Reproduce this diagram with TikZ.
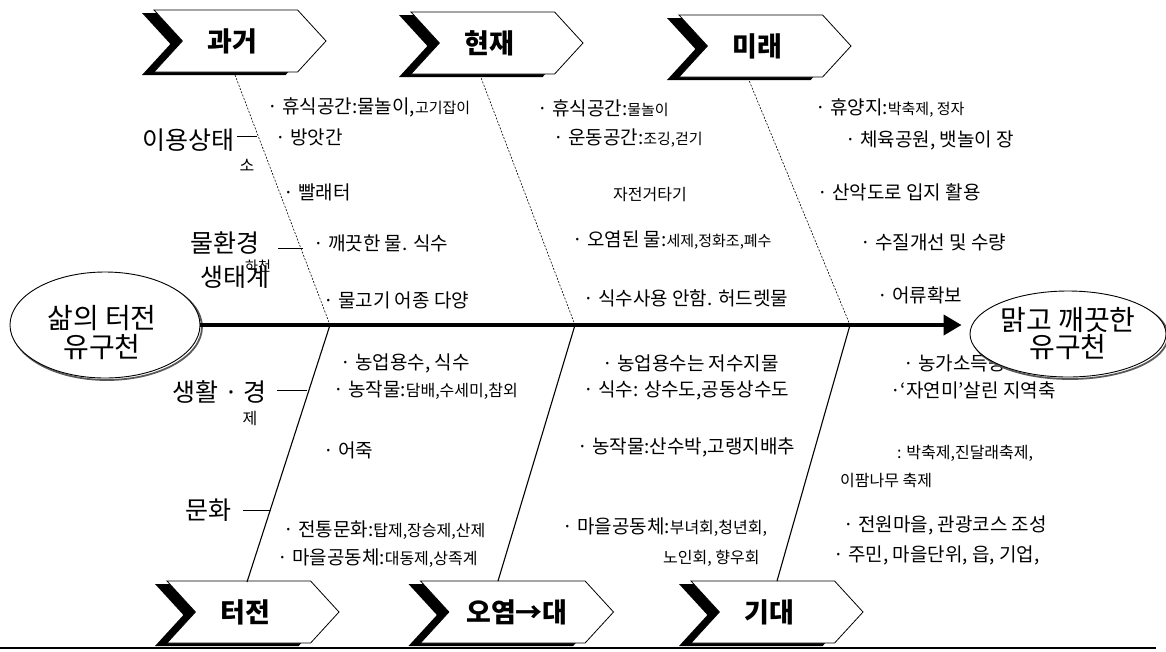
\documentclass[tikz,border=0pt]{standalone}
\usepackage{fontspec}
\newfontfamily\kr{Noto Sans CJK KR}
\usetikzlibrary{shapes.geometric,shapes.symbols,shadows,arrows.meta,calc}
\newcommand\smf{\fontsize{15}{17}\selectfont}
\newcommand\smg{\fontsize{16}{18}\selectfont}
\newcommand\lft{\kern-16pt}
\begin{document}
\begin{tikzpicture}[x=1pt,y=-1pt,
  every node/.style={font=\kr},
  item/.style={anchor=west, inner sep=0pt, font=\kr\fontsize{19}{21}\selectfont},
  smitem/.style={anchor=west, inner sep=0pt, font=\kr\fontsize{16}{18}\selectfont},
  cat/.style={inner sep=0pt, font=\kr\fontsize{25}{27}\selectfont},
  small/.style={inner sep=0pt, font=\kr\fontsize{16}{18}\selectfont},
  chev/.style={signal, signal from=west, signal to=east, signal pointer angle=95,
    draw=black, line width=0.8pt, fill=white, minimum width=172pt, minimum height=62pt,
    inner sep=0pt, font=\kr\bfseries\fontsize{27}{29}\selectfont,
    drop shadow={shadow xshift=-12pt, shadow yshift=-3pt, fill=black, opacity=1}},
  ell/.style={ellipse, draw=black, line width=0.9pt, fill=white, inner sep=0pt,
    copy shadow={shadow xshift=2pt, shadow yshift=-2pt, draw=black!65, line width=1.8pt, fill=white}},
  upbone/.style={line width=0.6pt, dash pattern=on 2pt off 1.5pt},
  lobone/.style={line width=1.1pt},
  tick/.style={line width=1pt},
  spine/.style={line width=4pt, -{Triangle[length=18pt,width=20pt]}},
]
\useasboundingbox (0,0) rectangle (1166,651);

% chevrons
\node[chev] (ch1) at (240,41) {\lft 과거};
\node[chev] (ch2) at (497,43) {\lft 현재};
\node[chev] (ch3) at (765,46) {\lft 미래};
\node[chev] (cb1) at (253,612) {\lft 터전};
\node[chev, minimum width=193pt] (cb2) at (517,612) {오염→대};
\node[chev] (cb3) at (777,612) {\lft 기대};

% spine points and bone ends
\coordinate (s1) at (330,325);
\coordinate (s2) at (575,325);
\coordinate (s3) at (850,325);
\coordinate (t1) at (235,75);
\coordinate (t2) at (480,75);
\coordinate (t3) at (748,78);
\coordinate (u1) at (247,582);
\coordinate (u2) at (498,581);
\coordinate (u3) at (777,581);

\draw[upbone] (t1) -- (s1);
\draw[upbone] (t2) -- (s2);
\draw[upbone] (t3) -- (s3);
\draw[lobone] (s1) -- (u1);
\draw[lobone] (s2) -- (u2);
\draw[lobone] (s3) -- (u3);

% bottom rule
\coordinate (bl) at (0,648);
\coordinate (br) at (1156,648);
\draw[line width=2.5pt] (bl) -- (br);

% category labels
\node[cat, anchor=east] (l1) at (235,140) {이용상태};
\node[small] (l1b) at (247,165) {소};
\node[cat, anchor=east] (l2) at (260,243) {물환경};
\node[cat, anchor=west] (l2b) at (200,277) {생태계};
\node[inner sep=0pt, font=\kr\fontsize{14}{16}\selectfont] (l2c) at (258,266) {하천};
\node[cat, anchor=east] (l3) at (267,392) {생활 · 경};
\node[small] (l3b) at (250,418) {제};
\node[cat, anchor=east] (l4) at (232,510) {문화};

\draw[tick] ($(l1.east)+(2,-4)$) -- ++(20,0);
\draw[tick] ($(l2.east)+(18,5)$) -- ++(25,0);
\draw[tick] ($(l3.east)+(10,-2)$) -- ++(30,0);
\draw[tick] ($(l4.east)+(11,0)$) -- ++(27,0);

% items, upper half
\node[item] (a1) at (267,107) {· 휴식공간:물놀이,{\smf 고기잡이}};
\node[item] (a2) at (275,137) {· 방앗간};
\node[item] (a3) at (283,192) {· 빨래터};
\node[item] (b1) at (537,108) {· 휴식공간:{\smf 물놀이}};
\node[item] (b2) at (553,138) {· 운동공간:{\smf 조깅,걷기}};
\node[smitem] (b3) at (613,195) {자전거타기};
\node[item] (c1) at (815,108) {· 휴양지:{\smf 박축제, 정자}};
\node[item] (c2) at (845,140) {· 체육공원, 뱃놀이 장};
\node[item] (c3) at (817,192) {· 산악도로 입지 활용};
\node[item] (a4) at (313,243) {· 깨끗한 물. 식수};
\node[item] (b4) at (572,240) {· 오염된 물:{\smf 세제,정화조,폐수}};
\node[item] (c4) at (860,242) {· 수질개선 및 수량};
\node[item] (a5) at (323,300) {· 물고기 어종 다양};
\node[item] (b5) at (583,298) {· 식수사용 안함. 허드렛물};
\node[item] (c5) at (877,295) {· 어류확보};

% items, lower half
\node[item] (d1) at (340,363) {· 농업용수, 식수};
\node[item] (d2) at (333,390) {· 농작물:{\smg 담배,수세미,참외}};
\node[item] (e1) at (602,363) {· 농업용수는 저수지물};
\node[item] (e2) at (583,390) {·  식수: 상수도,공동상수도};
\node[item] (f1) at (903,363) {· 농가소득증대};
\node[item] (f2) at (890,390) {·‘자연미’살린 지역축};
\node[item] (d3) at (323,450) {· 어죽};
\node[item] (e3) at (577,447) {·   농작물:산수박,고랭지배추};
\node[smitem] (f3) at (897,453) {: 박축제,진달래축제,};
\node[smitem] (f4) at (840,480) {이팜나무 축제};
\node[item] (d4) at (283,530) {· 전통문화:{\smg 탑제,장승제,산제}};
\node[item] (d5) at (277,558) {· 마을공동체:{\smg 대동제,상족계}};
\node[item] (e4) at (562,527) {·   마을공동체:{\smg 부녀회,청년회,}};
\node[smitem] (e5) at (663,558) {노인회, 향우회};
\node[item] (f5) at (843,525) {· 전원마을, 관광코스 조성};
\node[item] (f6) at (833,555) {· 주민, 마을단위, 읍, 기업,};

% ellipses
\node[ell, minimum width=190pt, minimum height=106pt] (le) at (105,325) {};
\node[inner sep=0pt, align=center, font=\kr\fontsize{28}{29}\selectfont] (lt) at (102,333) {삶의 터전\\유구천};
\node[ell, minimum width=196pt, minimum height=86pt, align=center,
  font=\kr\fontsize{28}{27}\selectfont] (re) at (1068,334) {맑고 깨끗한\\유구천};

\draw[spine, shorten >=8pt] (le.east) -- (le.east -| re.west);
\end{tikzpicture}
\end{document}
